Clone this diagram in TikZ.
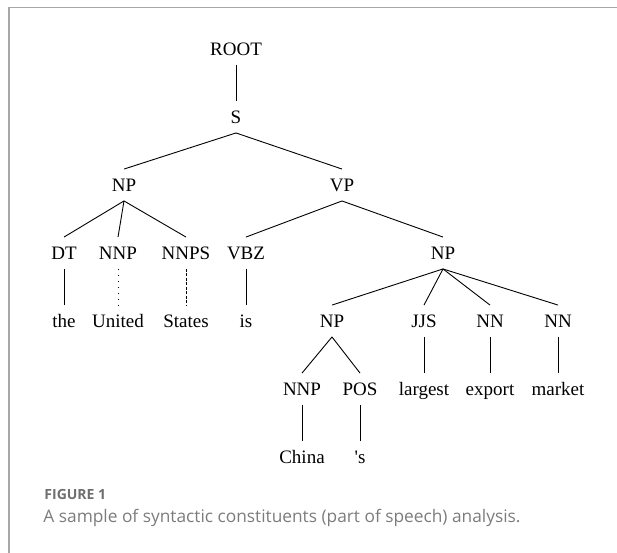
\documentclass[tikz,border=0pt]{standalone}
\usepackage{fontspec}
\setmainfont{Liberation Serif}
\newfontfamily\capfont{Open Sans}
\usepackage{xcolor}
\usetikzlibrary{calc}
\definecolor{framegray}{HTML}{A8A8A8}
\definecolor{figgray}{HTML}{6F6F6F}
\definecolor{capgray}{HTML}{7C7C7C}

\begin{document}
\begin{tikzpicture}[x=1pt,y=-1pt,line width=0.9pt]
    \useasboundingbox (0,0) rectangle (617,552);
    \draw[framegray,line width=1.6pt] (9,560) -- (9,7.5) -- (625,7.5);

    \begin{scope}[every node/.style={inner sep=0pt,minimum height=31pt,text height=12.5pt,text depth=0pt,font=\fontsize{19}{21}\selectfont}]
    \node (root) at (236,49) {ROOT};
    \node (s) at ($(root)+(0,68)$) {S};
    \node (np) at (124,185) {NP};
    \node (vp) at (342,185) {VP};

    \draw (root) -- (s);
    \draw (s.south) -- (np.north);
    \draw (s.south) -- (vp.north);

    \node (dt) at (64,253) {DT};
    \node (nnp) at (118,253) {NNP};
    \node (nnps) at (186,253) {NNPS};
    \node (vbz) at (246,253) {VBZ};
    \node (npb) at (443,253) {NP};

    \draw (np.south) -- (dt.north);
    \draw (np.south) -- (nnp.north);
    \draw (np.south) -- (nnps.north);
    \draw (vp.south) -- (vbz.north);
    \draw (vp.south) -- (npb.north);

    \node (the) at ($(dt)+(0,68)$) {the};
    \node (united) at ($(nnp)+(0,68)$) {United};
    \node (states) at ($(nnps)+(0,68)$) {States};
    \node (is) at ($(vbz)+(0,68)$) {is};

    \draw (dt) -- (the);
    \draw[dash pattern=on 1pt off 5pt] (nnp) -- (united);
    \draw[dash pattern=on 3pt off 1.5pt] (nnps) -- (states);
    \draw (vbz) -- (is);

    \node (npc) at (332,321) {NP};
    \node (jjs) at (424,321) {JJS};
    \node (nna) at (490,321) {NN};
    \node (nnb) at (558,321) {NN};

    \draw (npb.south) -- (npc.north);
    \draw (npb.south) -- (jjs.north);
    \draw (npb.south) -- (nna.north);
    \draw (npb.south) -- (nnb.north);

    \node (nnpc) at (302,389) {NNP};
    \node (pos) at (360,389) {POS};
    \node (largest) at ($(jjs)+(0,68)$) {largest};
    \node (export) at ($(nna)+(0,68)$) {export};
    \node (market) at ($(nnb)+(0,68)$) {market};

    \draw (npc.south) -- (nnpc.north);
    \draw (npc.south) -- (pos.north);
    \draw (jjs) -- (largest);
    \draw (nna) -- (export);
    \draw (nnb) -- (market);

    \node (china) at ($(nnpc)+(0,68)$) {China};
    \node (poss) at ($(pos)+(0,68)$) {\textquotesingle s};

    \draw (nnpc) -- (china);
    \draw (pos) -- (poss);
    \end{scope}

    % caption
    \node[anchor=base west,inner sep=0pt,text=figgray,font=\capfont\bfseries\fontsize{14}{16}\selectfont] (fig) at (44,499) {FIGURE 1};
    \node[anchor=base west,inner sep=0pt,text=capgray,font=\capfont\fontsize{17.3}{19}\selectfont] (cap) at (43,522) {A sample of syntactic constituents (part of speech) analysis.};
\end{tikzpicture}
\end{document}
